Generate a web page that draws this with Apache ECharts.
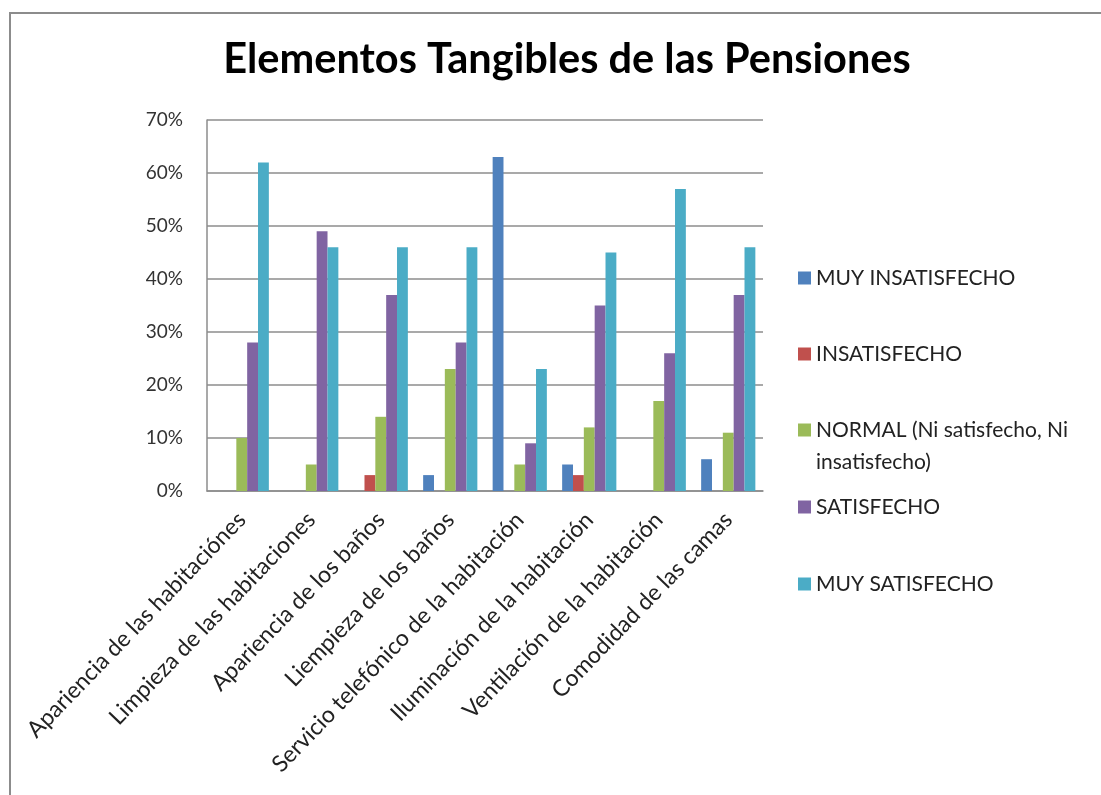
<!DOCTYPE html>
<html>
<head>
<meta charset="utf-8">
<style>
  html, body { margin: 0; padding: 0; background: #fff; }
  #chart { width: 1101px; height: 795px; }
</style>
<script src="https://cdn.jsdelivr.net/npm/echarts@6/dist/echarts.min.js"></script>
</head>
<body>
<div id="chart"></div>
<script>
// categorias del eje x
const categories = [
  'Apariencia de las habitaciónes',
  'Limpieza de las habitaciones',
  'Apariencia de los baños',
  'Liempieza de los baños',
  'Servicio telefónico de la habitación',
  'Iluminación de la habitación',
  'Ventilación de la habitación',
  'Comodidad de las camas'
]

const seriesNames = [
  'MUY INSATISFECHO',
  'INSATISFECHO',
  'NORMAL (Ni satisfecho, Ni insatisfecho)',
  'SATISFECHO',
  'MUY SATISFECHO'
]

// valores en %
const muyInsatisfecho = [0, 0, 0, 3, 63, 5, 0, 6]
const insatisfecho = [0, 0, 3, 0, 0, 3, 0, 0]
const normal = [10, 5, 14, 23, 5, 12, 17, 11]
const satisfecho = [28, 49, 37, 28, 9, 35, 26, 37]
const muySatisfecho = [62, 46, 46, 46, 23, 45, 57, 46]

const yTicks = [0, 10, 20, 30, 40, 50, 60, 70]

const colors = ['#4f81bd', '#c0504d', '#9bbb59', '#8064a2', '#4bacc6']
const values = [muyInsatisfecho, insatisfecho, normal, satisfecho, muySatisfecho]

const font = 'Lato, "Open Sans", sans-serif'
const legendCenters = [278, 354, 430, 507, 584]
const legendLineH = 32

const chart = echarts.init(document.getElementById('chart'))

chart.setOption({
  animation: false,
  color: colors,
  textStyle: { fontFamily: font },
  title: {
    text: 'Elementos Tangibles de las Pensiones',
    left: 562,
    top: 34,
    textAlign: 'center',
    textStyle: { fontSize: 41.5, fontWeight: 'bold', color: '#000', fontFamily: font }
  },
  graphic: [{
    type: 'rect',
    shape: { x: 10, y: 13, width: 1200, height: 900 },
    style: { fill: 'none', stroke: '#8c8c8c', lineWidth: 2 },
    silent: true
  }],
  legend: seriesNames.map((name, i) => {
    const isNormal = name.indexOf('NORMAL') === 0
    // la leyenda NORMAL ocupa dos lineas; una linea vacia arriba deja el icono junto a la primera
    const lines = isNormal ? 3 : 1
    return {
      data: [name],
      left: 798,
      top: legendCenters[i] - (lines * legendLineH) / 2,
      padding: 0,
      itemWidth: 13,
      itemHeight: 13,
      itemGap: 0,
      icon: 'rect',
      formatter: n => isNormal ? ' \nNORMAL (Ni satisfecho, Ni\ninsatisfecho)' : n,
      textStyle: { fontSize: 21, color: '#222', fontFamily: font, lineHeight: legendLineH }
    }
  }),
  grid: { left: 207, right: 338, top: 120, bottom: 304 },
  xAxis: {
    type: 'category',
    data: categories,
    axisLine: { lineStyle: { color: '#8c8c8c', width: 1.5 } },
    axisTick: { show: false },
    axisLabel: {
      interval: 0,
      rotate: 46,
      margin: 25,
      fontSize: 23,
      color: '#222',
      fontFamily: font
    }
  },
  yAxis: {
    type: 'value',
    min: yTicks[0],
    max: yTicks[yTicks.length - 1],
    interval: 10,
    axisLine: { show: true, lineStyle: { color: '#8c8c8c', width: 1.5 } },
    axisTick: { show: false },
    splitLine: { lineStyle: { color: '#8c8c8c', width: 1.5 } },
    axisLabel: {
      formatter: '{value}%',
      fontSize: 19,
      color: '#333',
      margin: 24,
      fontFamily: font
    }
  },
  series: seriesNames.map((name, i) => ({
    name: name,
    type: 'bar',
    data: values[i],
    barGap: '0%',
    barCategoryGap: '22%',
    itemStyle: { color: colors[i] }
  }))
})
</script>
</body>
</html>
